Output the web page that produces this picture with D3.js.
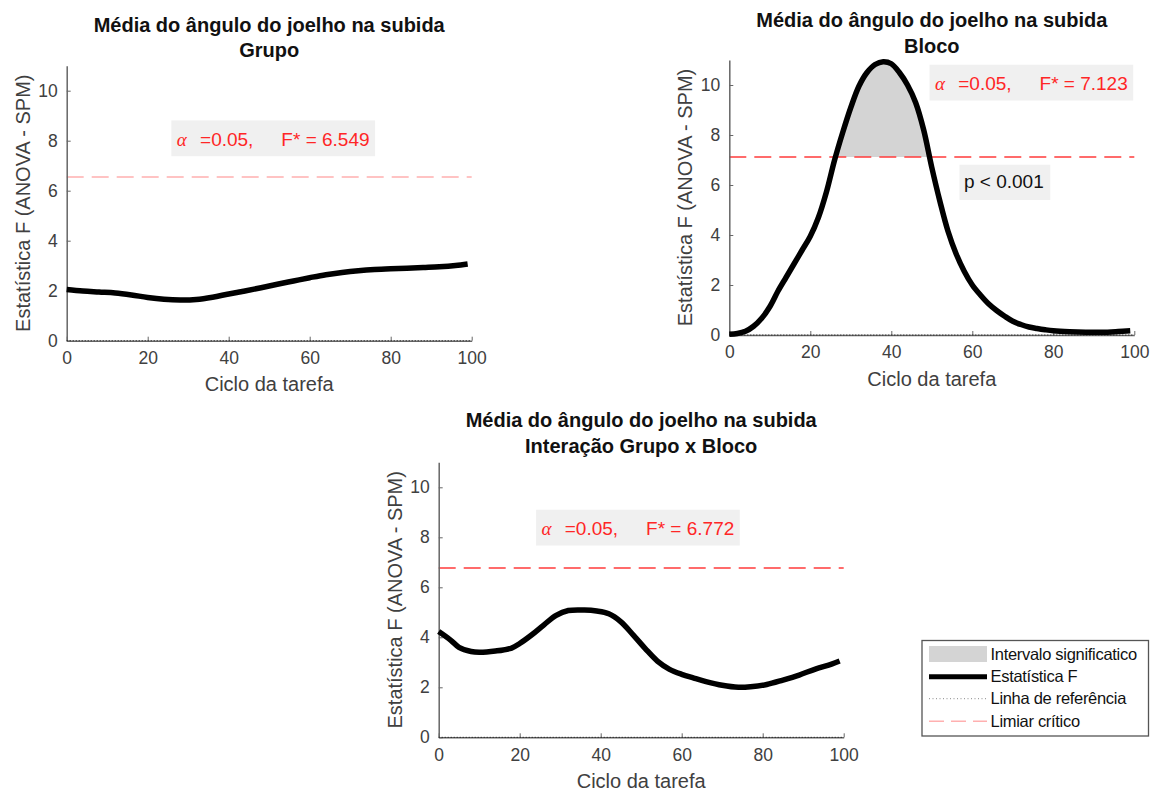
<!DOCTYPE html>
<html>
<head>
<meta charset="utf-8">
<script src="https://cdn.jsdelivr.net/npm/d3@7"></script>
<style>
  body { margin: 0; background: #fff; }
  svg { display: block; }
  text { font-family: "Liberation Sans", Arial, Helvetica, sans-serif; }
</style>
</head>
<body>
<svg id="chart" width="1153" height="792"></svg>
<script>
// ---------------- DATA ----------------
const titleMain = "Média do ângulo do joelho na subida";
const panelSubtitles = ["Grupo", "Bloco", "Interação Grupo x Bloco"];
const xLabel = "Ciclo da tarefa";
const yLabel = "Estatística F (ANOVA - SPM)";
const xTicks = [0, 20, 40, 60, 80, 100];
const yTicks = [0, 2, 4, 6, 8, 10];
const alphaText = "=0.05,";
const criticalF = [6.549, 7.123, 6.772];
const pValueText = "p < 0.001";
const legendLabels = ["Intervalo significatico", "Estatística F", "Linha de referência", "Limiar crítico"];

const grupoX = [0, 4, 8, 12, 16, 20, 24, 28, 32, 36, 40, 44, 48, 52, 56, 60, 64, 68, 72, 76, 80, 84, 88, 92, 96, 99];
const grupoF = [2.05, 1.99, 1.95, 1.91, 1.83, 1.73, 1.66, 1.63, 1.65, 1.74, 1.87, 1.99, 2.12, 2.26, 2.39, 2.52, 2.64, 2.73, 2.80, 2.85, 2.88, 2.90, 2.93, 2.96, 3.01, 3.07];

const blocoX = [0, 2, 4, 6, 8, 10, 12, 14, 16, 18, 20, 22, 24, 26, 28, 30, 32, 34, 36, 38, 40, 42, 44, 46, 48, 50, 52, 54, 56, 58, 60, 62, 64, 66, 68, 70, 72, 74, 76, 78, 80, 84, 88, 92, 96, 99];
const blocoF = [0.03, 0.06, 0.15, 0.35, 0.67, 1.13, 1.75, 2.30, 2.85, 3.40, 3.95, 4.70, 5.73, 7.00, 8.10, 9.10, 9.95, 10.50, 10.82, 10.93, 10.85, 10.50, 10.00, 9.30, 8.20, 6.70, 5.35, 4.15, 3.25, 2.55, 2.00, 1.60, 1.25, 0.98, 0.75, 0.55, 0.42, 0.32, 0.26, 0.21, 0.17, 0.13, 0.11, 0.11, 0.14, 0.17];

const interX = [0, 3, 5, 8, 10, 14, 18, 20, 23, 26, 29, 32, 36, 39, 42, 45, 48, 51, 54, 57, 60, 63, 66, 70, 74, 77, 81, 85, 89, 93, 97, 99];
const interF = [4.23, 3.88, 3.60, 3.43, 3.40, 3.45, 3.57, 3.75, 4.10, 4.50, 4.88, 5.07, 5.09, 5.05, 4.94, 4.62, 4.10, 3.55, 3.05, 2.72, 2.52, 2.37, 2.23, 2.08, 2.00, 2.02, 2.11, 2.29, 2.49, 2.73, 2.93, 3.05];

// ---------------- LAYOUT / STYLE ----------------
const panels = [
  { xs: grupoX, ys: grupoF, sub: panelSubtitles[0], crit: criticalF[0], x0: 66.7, x1: 471.7, y0: 340.7, yTop: 65.7,
    t1: 32.3, t2: 57.3, annot: [27.2, 7.8], pAnnot: null, dashColor: "#ffb0b0" },
  { xs: blocoX, ys: blocoF, sub: panelSubtitles[1], crit: criticalF[1], x0: 729.3, x1: 1134.3, y0: 335, yTop: 60,
    t1: 26.7, t2: 53.3, annot: [50.8, 9.8], pAnnot: [57.95, 5.87], dashColor: "#ff3b3b" },
  { xs: interX, ys: interF, sub: panelSubtitles[2], crit: criticalF[2], x0: 438.7, x1: 843.7, y0: 737.3, yTop: 462.3,
    t1: 426.7, t2: 453.3, annot: [25.4, 8.09], pAnnot: null, dashColor: "#ff3b3b" }
];

const axisColor = "#666";
const tickTextColor = "#404040";
const red = "#ff2626";
const boxFill = "#f0f0f0";
const shadeFill = "#d4d4d4";

const svg = d3.select("#chart");

panels.forEach((p, i) => {
  const g = svg.append("g");
  const x = d3.scaleLinear().domain([0, 100]).range([p.x0, p.x1]);
  const y = d3.scaleLinear().domain([0, 11]).range([p.y0, p.yTop]);
  const pts = p.xs.map((v, k) => [v, p.ys[k]]);
  const curve = d3.curveCatmullRom.alpha(0.5);

  // significant interval shading
  if (d3.max(p.ys) > p.crit) {
    const clipId = "clip" + i;
    g.append("clipPath").attr("id", clipId)
      .append("rect")
      .attr("x", x(0)).attr("y", y(11))
      .attr("width", x(100) - x(0)).attr("height", y(p.crit) - y(11));
    const area = d3.area()
      .x(d => x(d[0])).y0(y(p.crit)).y1(d => y(d[1]))
      .curve(curve);
    g.append("path").datum(pts)
      .attr("clip-path", `url(#${clipId})`)
      .attr("d", area).attr("fill", shadeFill);
  }

  // critical threshold
  g.append("line")
    .attr("x1", x(0)).attr("x2", x(100))
    .attr("y1", y(p.crit)).attr("y2", y(p.crit))
    .attr("stroke", p.dashColor).attr("stroke-width", 1.6)
    .attr("stroke-dasharray", "17,8");

  // axes
  const yAxis = d3.axisLeft(y).tickValues(yTicks).tickSizeInner(-4).tickSizeOuter(0).tickPadding(9);
  const xAxis = d3.axisBottom(x).tickValues(xTicks).tickSizeInner(-4).tickSizeOuter(0).tickPadding(11);
  const ya = g.append("g").attr("transform", `translate(${x(0)},0)`).call(yAxis);
  const xa = g.append("g").attr("transform", `translate(0,${y(0)})`).call(xAxis);
  [ya, xa].forEach(a => {
    a.select(".domain").attr("stroke", axisColor).attr("stroke-width", 1.5);
    a.selectAll(".tick line").attr("stroke", axisColor).attr("stroke-width", 1);
    a.selectAll(".tick text").attr("fill", tickTextColor)
      .style("font-size", "17.5px").style("font-family", '"Liberation Sans", Arial, sans-serif');
  });

  // reference line (dotted) at F = 0
  g.append("line")
    .attr("x1", x(0)).attr("x2", x(100))
    .attr("y1", y(0)).attr("y2", y(0))
    .attr("stroke", "#111").attr("stroke-width", 1)
    .attr("stroke-dasharray", "1,2");

  // F statistic curve
  const line = d3.line().x(d => x(d[0])).y(d => y(d[1])).curve(curve);
  g.append("path").datum(pts)
    .attr("d", line).attr("fill", "none")
    .attr("stroke", "#000").attr("stroke-width", 5.5)
    .attr("stroke-linejoin", "round").attr("stroke-linecap", "butt");

  // titles
  const cx = (x(0) + x(100)) / 2;
  g.append("text").attr("x", cx).attr("y", p.t1).attr("text-anchor", "middle")
    .style("font-size", "20px").style("font-weight", "bold").attr("fill", "#111").text(titleMain);
  g.append("text").attr("x", cx).attr("y", p.t2).attr("text-anchor", "middle")
    .style("font-size", "20px").style("font-weight", "bold").attr("fill", "#111").text(p.sub);

  // axis labels
  g.append("text").attr("x", cx).attr("y", y(0) + 50.5).attr("text-anchor", "middle")
    .style("font-size", "20px").attr("fill", tickTextColor).text(xLabel);
  g.append("text")
    .attr("transform", `translate(${x(0) - 37},${(y(0) + y(11)) / 2}) rotate(-90)`)
    .attr("text-anchor", "middle")
    .style("font-size", "20px").attr("fill", tickTextColor).text(yLabel);

  // annotation alpha / F*
  const ax = x(p.annot[0]), ay = y(p.annot[1]);
  const ag = g.append("g");
  const rect = ag.append("rect").attr("fill", boxFill);
  const t = ag.append("text").attr("y", ay).attr("fill", red).style("font-size", "19px");
  t.append("tspan").attr("x", ax).style("font-family", '"Liberation Serif", "Times New Roman", serif')
    .style("font-style", "italic").text("α");
  t.append("tspan").attr("x", ax + 23.2).text(alphaText);
  t.append("tspan").attr("x", ax + 104.5).text("F* = " + p.crit.toFixed(3));
  const bb = t.node().getBBox();
  rect.attr("x", bb.x - 5.5).attr("width", bb.width + 11)
    .attr("y", ay - 25.3).attr("height", 35.8);

  if (p.pAnnot) {
    const px = x(p.pAnnot[0]), py = y(p.pAnnot[1]);
    const pg = g.append("g");
    const pr = pg.append("rect").attr("fill", boxFill);
    const pt = pg.append("text").attr("x", px).attr("y", py).attr("fill", "#111")
      .style("font-size", "19px").text(pValueText);
    const pb = pt.node().getBBox();
    pr.attr("x", pb.x - 4.5).attr("width", pb.width + 11)
      .attr("y", py - 23.5).attr("height", 35.2);
  }
});

// ---------------- LEGEND ----------------
const lg = svg.append("g");
const lgBox = { x: 922, y: 640.5, w: 226.5, h: 95.5 };
lg.append("rect").attr("x", lgBox.x).attr("y", lgBox.y).attr("width", lgBox.w).attr("height", lgBox.h)
  .attr("fill", "#fff").attr("stroke", "#555").attr("stroke-width", 1.3);
const rowY = [654, 676.7, 698.7, 721.3];
const symX0 = 929, symX1 = 987, textX = 990.5;
lg.append("rect").attr("x", symX0).attr("y", rowY[0] - 8).attr("width", symX1 - symX0).attr("height", 16)
  .attr("fill", shadeFill);
lg.append("line").attr("x1", symX0).attr("x2", symX1).attr("y1", rowY[1]).attr("y2", rowY[1])
  .attr("stroke", "#000").attr("stroke-width", 5);
lg.append("line").attr("x1", symX0).attr("x2", symX1).attr("y1", rowY[2]).attr("y2", rowY[2])
  .attr("stroke", "#888").attr("stroke-width", 1).attr("stroke-dasharray", "1,2.5");
lg.append("line").attr("x1", symX0).attr("x2", symX1).attr("y1", rowY[3]).attr("y2", rowY[3])
  .attr("stroke", "#ffb0b0").attr("stroke-width", 1.6).attr("stroke-dasharray", "15,7");
legendLabels.forEach((lab, k) => {
  lg.append("text").attr("x", textX).attr("y", rowY[k]).attr("dy", "0.35em")
    .style("font-size", "16.5px").style("letter-spacing", "-0.3px").attr("fill", "#111").text(lab);
});
</script>
</body>
</html>
